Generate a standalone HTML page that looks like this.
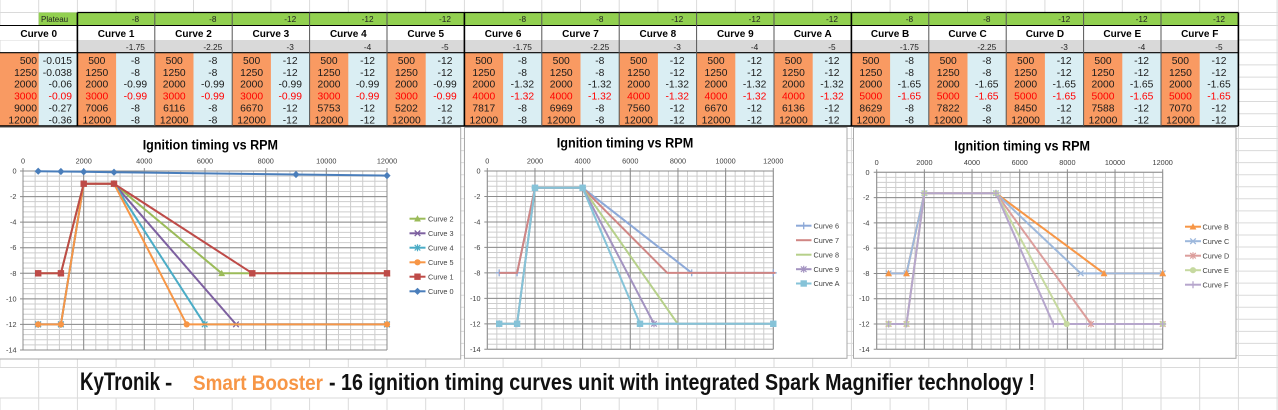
<!DOCTYPE html>
<html><head><meta charset="utf-8"><style>
html,body{margin:0;padding:0;background:#fff;width:1278px;height:410px;overflow:hidden}
svg{display:block}
text{font-family:"Liberation Sans",Arial,sans-serif}
.s{font-size:8.3px;fill:#222;text-anchor:middle}
.h{font-size:10px;font-weight:bold;text-anchor:middle;fill:#000}
.d{font-size:10.3px;text-anchor:middle;fill:#1b1b1b}
.d0{font-size:10.3px;text-anchor:end;fill:#1b1b1b}
.r{fill:#f00}
.tx{font-size:7.3px;fill:#404040;text-anchor:middle}
.ty{font-size:7.3px;fill:#404040;text-anchor:end}
.lg{font-size:7.3px;fill:#404040}
.ti{font-size:13.5px;font-weight:bold;fill:#000}
</style></head><body>
<svg width="1278" height="410" viewBox="0 0 1278 410" xmlns="http://www.w3.org/2000/svg">
<defs>
<polygon id="dia" points="0,-3.6 3.6,0 0,3.6 -3.6,0"/>
<rect id="sq" x="-3.2" y="-3.2" width="6.4" height="6.4"/>
<polygon id="tri" points="0,-3.6 3.4,2.8 -3.4,2.8"/>
<circle id="cir" r="3.1"/>
<path id="xm" d="M-2.8,-2.8L2.8,2.8M-2.8,2.8L2.8,-2.8" fill="none" stroke-width="1.3"/>
<path id="ast" d="M-2.8,-2.8L2.8,2.8M-2.8,2.8L2.8,-2.8M0,-3.5V3.5" fill="none" stroke-width="1.2"/>
<path id="plus" d="M-3.5,0H3.5M0,-3.5V3.5" fill="none" stroke-width="1.3"/>
</defs>

<!-- spreadsheet background grid -->
<rect x="0" y="0" width="1278" height="410" fill="#fff"/>
<g stroke="#dadada" fill="none">
<line x1="-0.5" y1="205" x2="1278" y2="205" stroke-width="410" stroke-dasharray="1 37.7"/>
<line x1="639" y1="126" x2="639" y2="368.5" stroke-width="1278" stroke-dasharray="1 11.05"/>
<path stroke-width="1" d="M0,12.5H1278M0,25.5H1278M0,40H1278M0,52.7H1278M0,64.9H1278M0,77.1H1278M0,89.3H1278M0,101.5H1278M0,113.7H1278"/>
</g>

<!-- table fills -->
<rect x="38.7" y="12.5" width="38.7" height="13" fill="#92d050"/>
<rect x="77.4" y="12.5" width="1161" height="13" fill="#92d050"/>
<rect x="0" y="25.5" width="1238.4" height="14.5" fill="#fff"/>
<rect x="77.4" y="40" width="1161" height="12.7" fill="#d9d9d9"/>
<rect x="0" y="52.7" width="1238.4" height="73.3" fill="#f99a62"/>
<line x1="38.7" y1="89.35" x2="1238.4" y2="89.35" stroke="#daeef3" stroke-width="73.3" stroke-dasharray="38.7 38.7"/>
<line x1="38.7" y1="40" x2="38.7" y2="52.7" stroke="#d4d4d4"/>

<!-- table borders -->
<g stroke="#000" fill="none">
<line x1="77.4" y1="12.5" x2="1238.4" y2="12.5" stroke-width="1.2"/>
<line x1="0" y1="25.5" x2="1238.4" y2="25.5" stroke-width="1"/>
<line x1="0" y1="52.7" x2="1238.4" y2="52.7" stroke-width="1.2"/>
<line x1="0" y1="126" x2="1238.4" y2="126" stroke-width="1.5"/>
<path stroke="#555" stroke-width="1" d="M154.8,12.5V126M232.2,12.5V126M309.6,12.5V126M387,12.5V126M541.8,12.5V126M619.2,12.5V126M696.6,12.5V126M774,12.5V126M928.8,12.5V126M1006.2,12.5V126M1083.6,12.5V126M1161,12.5V126"/>
<path stroke-width="1.6" d="M77.4,12.5V126M464.4,12.5V126M851.4,12.5V126M1238.4,12.5V126"/>
</g>

<!-- table text -->
<text x="41" y="21.8" style="font-size:8px;fill:#222">Plateau</text>
<text class="h" x="38.7" y="37">Curve 0</text>
<text class="d0"><tspan x="37" y="64">500</tspan><tspan x="37" y="75.9">1250</tspan><tspan x="37" y="87.7">2000</tspan><tspan x="37" y="99.6" class="r">3000</tspan><tspan x="37" y="111.4">9000</tspan><tspan x="37" y="123.3">12000</tspan><tspan x="72" y="64">-0.015</tspan><tspan x="72" y="75.9">-0.038</tspan><tspan x="72" y="87.7">-0.06</tspan><tspan x="72" y="99.6" class="r">-0.09</tspan><tspan x="72" y="111.4">-0.27</tspan><tspan x="72" y="123.3">-0.36</tspan></text>

<g transform="translate(77.4 0)"><text class="s" x="58" y="22">-8</text><text class="h" x="38.7" y="37">Curve 1</text><text class="s" x="58" y="50">-1.75</text><text class="d"><tspan x="19.4" y="64">500</tspan><tspan x="19.4" y="75.9">1250</tspan><tspan x="19.4" y="87.7">2000</tspan><tspan x="19.4" y="99.6" class="r">3000</tspan><tspan x="19.4" y="111.4">7006</tspan><tspan x="19.4" y="123.3">12000</tspan><tspan x="58" y="64">-8</tspan><tspan x="58" y="75.9">-8</tspan><tspan x="58" y="87.7">-0.99</tspan><tspan x="58" y="99.6" class="r">-0.99</tspan><tspan x="58" y="111.4">-8</tspan><tspan x="58" y="123.3">-8</tspan></text></g>

<g transform="translate(154.8 0)"><text class="s" x="58" y="22">-8</text><text class="h" x="38.7" y="37">Curve 2</text><text class="s" x="58" y="50">-2.25</text><text class="d"><tspan x="19.4" y="64">500</tspan><tspan x="19.4" y="75.9">1250</tspan><tspan x="19.4" y="87.7">2000</tspan><tspan x="19.4" y="99.6" class="r">3000</tspan><tspan x="19.4" y="111.4">6116</tspan><tspan x="19.4" y="123.3">12000</tspan><tspan x="58" y="64">-8</tspan><tspan x="58" y="75.9">-8</tspan><tspan x="58" y="87.7">-0.99</tspan><tspan x="58" y="99.6" class="r">-0.99</tspan><tspan x="58" y="111.4">-8</tspan><tspan x="58" y="123.3">-8</tspan></text></g>

<g transform="translate(232.2 0)"><text class="s" x="58" y="22">-12</text><text class="h" x="38.7" y="37">Curve 3</text><text class="s" x="58" y="50">-3</text><text class="d"><tspan x="19.4" y="64">500</tspan><tspan x="19.4" y="75.9">1250</tspan><tspan x="19.4" y="87.7">2000</tspan><tspan x="19.4" y="99.6" class="r">3000</tspan><tspan x="19.4" y="111.4">6670</tspan><tspan x="19.4" y="123.3">12000</tspan><tspan x="58" y="64">-12</tspan><tspan x="58" y="75.9">-12</tspan><tspan x="58" y="87.7">-0.99</tspan><tspan x="58" y="99.6" class="r">-0.99</tspan><tspan x="58" y="111.4">-12</tspan><tspan x="58" y="123.3">-12</tspan></text></g>

<g transform="translate(309.6 0)"><text class="s" x="58" y="22">-12</text><text class="h" x="38.7" y="37">Curve 4</text><text class="s" x="58" y="50">-4</text><text class="d"><tspan x="19.4" y="64">500</tspan><tspan x="19.4" y="75.9">1250</tspan><tspan x="19.4" y="87.7">2000</tspan><tspan x="19.4" y="99.6" class="r">3000</tspan><tspan x="19.4" y="111.4">5753</tspan><tspan x="19.4" y="123.3">12000</tspan><tspan x="58" y="64">-12</tspan><tspan x="58" y="75.9">-12</tspan><tspan x="58" y="87.7">-0.99</tspan><tspan x="58" y="99.6" class="r">-0.99</tspan><tspan x="58" y="111.4">-12</tspan><tspan x="58" y="123.3">-12</tspan></text></g>

<g transform="translate(387 0)"><text class="s" x="58" y="22">-12</text><text class="h" x="38.7" y="37">Curve 5</text><text class="s" x="58" y="50">-5</text><text class="d"><tspan x="19.4" y="64">500</tspan><tspan x="19.4" y="75.9">1250</tspan><tspan x="19.4" y="87.7">2000</tspan><tspan x="19.4" y="99.6" class="r">3000</tspan><tspan x="19.4" y="111.4">5202</tspan><tspan x="19.4" y="123.3">12000</tspan><tspan x="58" y="64">-12</tspan><tspan x="58" y="75.9">-12</tspan><tspan x="58" y="87.7">-0.99</tspan><tspan x="58" y="99.6" class="r">-0.99</tspan><tspan x="58" y="111.4">-12</tspan><tspan x="58" y="123.3">-12</tspan></text></g>

<g transform="translate(464.4 0)"><text class="s" x="58" y="22">-8</text><text class="h" x="38.7" y="37">Curve 6</text><text class="s" x="58" y="50">-1.75</text><text class="d"><tspan x="19.4" y="64">500</tspan><tspan x="19.4" y="75.9">1250</tspan><tspan x="19.4" y="87.7">2000</tspan><tspan x="19.4" y="99.6" class="r">4000</tspan><tspan x="19.4" y="111.4">7817</tspan><tspan x="19.4" y="123.3">12000</tspan><tspan x="58" y="64">-8</tspan><tspan x="58" y="75.9">-8</tspan><tspan x="58" y="87.7">-1.32</tspan><tspan x="58" y="99.6" class="r">-1.32</tspan><tspan x="58" y="111.4">-8</tspan><tspan x="58" y="123.3">-8</tspan></text></g>

<g transform="translate(541.8 0)"><text class="s" x="58" y="22">-8</text><text class="h" x="38.7" y="37">Curve 7</text><text class="s" x="58" y="50">-2.25</text><text class="d"><tspan x="19.4" y="64">500</tspan><tspan x="19.4" y="75.9">1250</tspan><tspan x="19.4" y="87.7">2000</tspan><tspan x="19.4" y="99.6" class="r">4000</tspan><tspan x="19.4" y="111.4">6969</tspan><tspan x="19.4" y="123.3">12000</tspan><tspan x="58" y="64">-8</tspan><tspan x="58" y="75.9">-8</tspan><tspan x="58" y="87.7">-1.32</tspan><tspan x="58" y="99.6" class="r">-1.32</tspan><tspan x="58" y="111.4">-8</tspan><tspan x="58" y="123.3">-8</tspan></text></g>

<g transform="translate(619.2 0)"><text class="s" x="58" y="22">-12</text><text class="h" x="38.7" y="37">Curve 8</text><text class="s" x="58" y="50">-3</text><text class="d"><tspan x="19.4" y="64">500</tspan><tspan x="19.4" y="75.9">1250</tspan><tspan x="19.4" y="87.7">2000</tspan><tspan x="19.4" y="99.6" class="r">4000</tspan><tspan x="19.4" y="111.4">7560</tspan><tspan x="19.4" y="123.3">12000</tspan><tspan x="58" y="64">-12</tspan><tspan x="58" y="75.9">-12</tspan><tspan x="58" y="87.7">-1.32</tspan><tspan x="58" y="99.6" class="r">-1.32</tspan><tspan x="58" y="111.4">-12</tspan><tspan x="58" y="123.3">-12</tspan></text></g>

<g transform="translate(696.6 0)"><text class="s" x="58" y="22">-12</text><text class="h" x="38.7" y="37">Curve 9</text><text class="s" x="58" y="50">-4</text><text class="d"><tspan x="19.4" y="64">500</tspan><tspan x="19.4" y="75.9">1250</tspan><tspan x="19.4" y="87.7">2000</tspan><tspan x="19.4" y="99.6" class="r">4000</tspan><tspan x="19.4" y="111.4">6670</tspan><tspan x="19.4" y="123.3">12000</tspan><tspan x="58" y="64">-12</tspan><tspan x="58" y="75.9">-12</tspan><tspan x="58" y="87.7">-1.32</tspan><tspan x="58" y="99.6" class="r">-1.32</tspan><tspan x="58" y="111.4">-12</tspan><tspan x="58" y="123.3">-12</tspan></text></g>

<g transform="translate(774 0)"><text class="s" x="58" y="22">-12</text><text class="h" x="38.7" y="37">Curve A</text><text class="s" x="58" y="50">-5</text><text class="d"><tspan x="19.4" y="64">500</tspan><tspan x="19.4" y="75.9">1250</tspan><tspan x="19.4" y="87.7">2000</tspan><tspan x="19.4" y="99.6" class="r">4000</tspan><tspan x="19.4" y="111.4">6136</tspan><tspan x="19.4" y="123.3">12000</tspan><tspan x="58" y="64">-12</tspan><tspan x="58" y="75.9">-12</tspan><tspan x="58" y="87.7">-1.32</tspan><tspan x="58" y="99.6" class="r">-1.32</tspan><tspan x="58" y="111.4">-12</tspan><tspan x="58" y="123.3">-12</tspan></text></g>

<g transform="translate(851.4 0)"><text class="s" x="58" y="22">-8</text><text class="h" x="38.7" y="37">Curve B</text><text class="s" x="58" y="50">-1.75</text><text class="d"><tspan x="19.4" y="64">500</tspan><tspan x="19.4" y="75.9">1250</tspan><tspan x="19.4" y="87.7">2000</tspan><tspan x="19.4" y="99.6" class="r">5000</tspan><tspan x="19.4" y="111.4">8629</tspan><tspan x="19.4" y="123.3">12000</tspan><tspan x="58" y="64">-8</tspan><tspan x="58" y="75.9">-8</tspan><tspan x="58" y="87.7">-1.65</tspan><tspan x="58" y="99.6" class="r">-1.65</tspan><tspan x="58" y="111.4">-8</tspan><tspan x="58" y="123.3">-8</tspan></text></g>

<g transform="translate(928.8 0)"><text class="s" x="58" y="22">-8</text><text class="h" x="38.7" y="37">Curve C</text><text class="s" x="58" y="50">-2.25</text><text class="d"><tspan x="19.4" y="64">500</tspan><tspan x="19.4" y="75.9">1250</tspan><tspan x="19.4" y="87.7">2000</tspan><tspan x="19.4" y="99.6" class="r">5000</tspan><tspan x="19.4" y="111.4">7822</tspan><tspan x="19.4" y="123.3">12000</tspan><tspan x="58" y="64">-8</tspan><tspan x="58" y="75.9">-8</tspan><tspan x="58" y="87.7">-1.65</tspan><tspan x="58" y="99.6" class="r">-1.65</tspan><tspan x="58" y="111.4">-8</tspan><tspan x="58" y="123.3">-8</tspan></text></g>

<g transform="translate(1006.2 0)"><text class="s" x="58" y="22">-12</text><text class="h" x="38.7" y="37">Curve D</text><text class="s" x="58" y="50">-3</text><text class="d"><tspan x="19.4" y="64">500</tspan><tspan x="19.4" y="75.9">1250</tspan><tspan x="19.4" y="87.7">2000</tspan><tspan x="19.4" y="99.6" class="r">5000</tspan><tspan x="19.4" y="111.4">8450</tspan><tspan x="19.4" y="123.3">12000</tspan><tspan x="58" y="64">-12</tspan><tspan x="58" y="75.9">-12</tspan><tspan x="58" y="87.7">-1.65</tspan><tspan x="58" y="99.6" class="r">-1.65</tspan><tspan x="58" y="111.4">-12</tspan><tspan x="58" y="123.3">-12</tspan></text></g>

<g transform="translate(1083.6 0)"><text class="s" x="58" y="22">-12</text><text class="h" x="38.7" y="37">Curve E</text><text class="s" x="58" y="50">-4</text><text class="d"><tspan x="19.4" y="64">500</tspan><tspan x="19.4" y="75.9">1250</tspan><tspan x="19.4" y="87.7">2000</tspan><tspan x="19.4" y="99.6" class="r">5000</tspan><tspan x="19.4" y="111.4">7588</tspan><tspan x="19.4" y="123.3">12000</tspan><tspan x="58" y="64">-12</tspan><tspan x="58" y="75.9">-12</tspan><tspan x="58" y="87.7">-1.65</tspan><tspan x="58" y="99.6" class="r">-1.65</tspan><tspan x="58" y="111.4">-12</tspan><tspan x="58" y="123.3">-12</tspan></text></g>

<g transform="translate(1161 0)"><text class="s" x="58" y="22">-12</text><text class="h" x="38.7" y="37">Curve F</text><text class="s" x="58" y="50">-5</text><text class="d"><tspan x="19.4" y="64">500</tspan><tspan x="19.4" y="75.9">1250</tspan><tspan x="19.4" y="87.7">2000</tspan><tspan x="19.4" y="99.6" class="r">5000</tspan><tspan x="19.4" y="111.4">7070</tspan><tspan x="19.4" y="123.3">12000</tspan><tspan x="58" y="64">-12</tspan><tspan x="58" y="75.9">-12</tspan><tspan x="58" y="87.7">-1.65</tspan><tspan x="58" y="99.6" class="r">-1.65</tspan><tspan x="58" y="111.4">-12</tspan><tspan x="58" y="123.3">-12</tspan></text></g>

<!-- ================= CHART 1 ================= -->
<rect x="-1" y="127.5" width="461.7" height="231.5" fill="#fff" stroke="#a9a9a9"/>
<text class="ti" x="142.7" y="149.3" textLength="135.3" lengthAdjust="spacingAndGlyphs">Ignition timing vs RPM</text>
<g fill="none">
<line x1="22.5" y1="260.5" x2="387.6" y2="260.5" stroke="#cdcdcd" stroke-width="179" stroke-dasharray="1 11.1333"/>
<line x1="205" y1="170.5" x2="205" y2="350.6" stroke="#cdcdcd" stroke-width="364" stroke-dasharray="1 4.1143"/>
<line x1="22.5" y1="260.5" x2="387.6" y2="260.5" stroke="#8c8c8c" stroke-width="179" stroke-dasharray="1 59.667"/>
<line x1="205" y1="170.5" x2="205" y2="350.6" stroke="#8c8c8c" stroke-width="364" stroke-dasharray="1 24.571"/>
<line x1="21.5" y1="170.5" x2="21.5" y2="350.6" stroke="#8c8c8c" stroke-width="3" stroke-dasharray="1 24.571"/>
<line x1="22.5" y1="169.5" x2="387.6" y2="169.5" stroke="#8c8c8c" stroke-width="3" stroke-dasharray="1 59.667"/>
</g>
<text class="tx" y="163.5"><tspan x="23">0</tspan><tspan x="83.7">2000</tspan><tspan x="144.3">4000</tspan><tspan x="205">6000</tspan><tspan x="265.7">8000</tspan><tspan x="326.3">10000</tspan><tspan x="387">12000</tspan></text>
<text class="ty"><tspan x="16.5" y="173.5">0</tspan><tspan x="16.5" y="199.1">-2</tspan><tspan x="16.5" y="224.6">-4</tspan><tspan x="16.5" y="250.2">-6</tspan><tspan x="16.5" y="275.8">-8</tspan><tspan x="16.5" y="301.4">-10</tspan><tspan x="16.5" y="326.9">-12</tspan><tspan x="16.5" y="352.5">-14</tspan></text>

<g stroke-width="2" stroke-linejoin="round" fill="none">
<polyline stroke="#9bbb59" points="38.2,273.3 60.9,273.3 83.7,183.7 114,183.7 221.7,273.3 387,273.3"/>
</g>
<g fill="#9bbb59"><use href="#tri" x="38.2" y="273.3"/><use href="#tri" x="60.9" y="273.3"/><use href="#tri" x="83.7" y="183.7"/><use href="#tri" x="114" y="183.7"/><use href="#tri" x="221.7" y="273.3"/><use href="#tri" x="387" y="273.3"/></g>
<polyline fill="none" stroke-width="2" stroke-linejoin="round" stroke="#7d60a0" points="38.2,324.4 60.9,324.4 83.7,183.7 114,183.7 236,324.4 387,324.4"/>
<g stroke="#7d60a0"><use href="#xm" x="38.2" y="324.4"/><use href="#xm" x="60.9" y="324.4"/><use href="#xm" x="83.7" y="183.7"/><use href="#xm" x="114" y="183.7"/><use href="#xm" x="236" y="324.4"/><use href="#xm" x="387" y="324.4"/></g>
<polyline fill="none" stroke-width="2" stroke-linejoin="round" stroke="#4bacc6" points="38.2,324.4 60.9,324.4 83.7,183.7 114,183.7 204.7,324.4 387,324.4"/>
<g stroke="#4bacc6"><use href="#ast" x="38.2" y="324.4"/><use href="#ast" x="60.9" y="324.4"/><use href="#ast" x="83.7" y="183.7"/><use href="#ast" x="114" y="183.7"/><use href="#ast" x="204.7" y="324.4"/><use href="#ast" x="387" y="324.4"/></g>
<polyline fill="none" stroke-width="2" stroke-linejoin="round" stroke="#f79646" points="38.2,324.4 60.9,324.4 83.7,183.7 114,183.7 186.7,324.4 387,324.4"/>
<g fill="#f79646"><use href="#cir" x="38.2" y="324.4"/><use href="#cir" x="60.9" y="324.4"/><use href="#cir" x="83.7" y="183.7"/><use href="#cir" x="114" y="183.7"/><use href="#cir" x="186.7" y="324.4"/><use href="#cir" x="387" y="324.4"/></g>
<polyline fill="none" stroke-width="2" stroke-linejoin="round" stroke="#be4b48" points="38.2,273.3 60.9,273.3 83.7,183.7 114,183.7 252.3,273.3 387,273.3"/>
<g fill="#be4b48"><use href="#sq" x="38.2" y="273.3"/><use href="#sq" x="60.9" y="273.3"/><use href="#sq" x="83.7" y="183.7"/><use href="#sq" x="114" y="183.7"/><use href="#sq" x="252.3" y="273.3"/><use href="#sq" x="387" y="273.3"/></g>
<polyline fill="none" stroke-width="2" stroke-linejoin="round" stroke="#4a7ebb" points="38.2,171.2 60.9,171.5 83.7,171.8 114,172.2 296,174.5 387,175.6"/>
<g fill="#4a7ebb"><use href="#dia" x="38.2" y="171.2"/><use href="#dia" x="60.9" y="171.5"/><use href="#dia" x="83.7" y="171.8"/><use href="#dia" x="114" y="172.2"/><use href="#dia" x="296" y="174.5"/><use href="#dia" x="387" y="175.6"/></g>

<!-- legend 1 -->
<g stroke-width="2">
<line x1="409.5" y1="218.7" x2="425.5" y2="218.7" stroke="#9bbb59"/>
<line x1="409.5" y1="233.3" x2="425.5" y2="233.3" stroke="#7d60a0"/>
<line x1="409.5" y1="247.7" x2="425.5" y2="247.7" stroke="#4bacc6"/>
<line x1="409.5" y1="262.3" x2="425.5" y2="262.3" stroke="#f79646"/>
<line x1="409.5" y1="276.7" x2="425.5" y2="276.7" stroke="#be4b48"/>
<line x1="409.5" y1="291.3" x2="425.5" y2="291.3" stroke="#4a7ebb"/>
</g>
<use href="#tri" x="417.5" y="218.7" fill="#9bbb59"/>
<use href="#xm" x="417.5" y="233.3" stroke="#7d60a0"/>
<use href="#ast" x="417.5" y="247.7" stroke="#4bacc6"/>
<use href="#cir" x="417.5" y="262.3" fill="#f79646"/>
<use href="#sq" x="417.5" y="276.7" fill="#be4b48"/>
<use href="#dia" x="417.5" y="291.3" fill="#4a7ebb"/>
<text class="lg"><tspan x="428" y="221.3">Curve 2</tspan><tspan x="428" y="235.9">Curve 3</tspan><tspan x="428" y="250.3">Curve 4</tspan><tspan x="428" y="264.9">Curve 5</tspan><tspan x="428" y="279.3">Curve 1</tspan><tspan x="428" y="293.9">Curve 0</tspan></text>

<!-- ================= CHART 2 ================= -->
<rect x="464.5" y="127.5" width="382.5" height="230.8" fill="#fff" stroke="#a9a9a9"/>
<text class="ti" x="556.7" y="147.3" textLength="136.6" lengthAdjust="spacingAndGlyphs">Ignition timing vs RPM</text>
<g fill="none">
<line x1="486.8" y1="260.15" x2="773.9" y2="260.15" stroke="#cdcdcd" stroke-width="178.3" stroke-dasharray="1 8.5333"/>
<line x1="630.3" y1="170.5" x2="630.3" y2="349.9" stroke="#cdcdcd" stroke-width="286" stroke-dasharray="1 4.0943"/>
<line x1="486.8" y1="260.15" x2="773.9" y2="260.15" stroke="#8c8c8c" stroke-width="178.3" stroke-dasharray="1 46.667"/>
<line x1="630.3" y1="170.5" x2="630.3" y2="349.9" stroke="#8c8c8c" stroke-width="286" stroke-dasharray="1 24.471"/>
<line x1="485.8" y1="170.5" x2="485.8" y2="349.9" stroke="#8c8c8c" stroke-width="3" stroke-dasharray="1 24.471"/>
<line x1="486.8" y1="169.5" x2="773.9" y2="169.5" stroke="#8c8c8c" stroke-width="3" stroke-dasharray="1 46.667"/>
</g>
<text class="tx" y="163.5"><tspan x="487.3">0</tspan><tspan x="535">2000</tspan><tspan x="582.6">4000</tspan><tspan x="630.3">6000</tspan><tspan x="678">8000</tspan><tspan x="725.6">10000</tspan><tspan x="773.3">12000</tspan></text>
<text class="ty"><tspan x="480.5" y="173.5">0</tspan><tspan x="480.5" y="199">-2</tspan><tspan x="480.5" y="224.4">-4</tspan><tspan x="480.5" y="249.9">-6</tspan><tspan x="480.5" y="275.4">-8</tspan><tspan x="480.5" y="300.9">-10</tspan><tspan x="480.5" y="326.3">-12</tspan><tspan x="480.5" y="351.8">-14</tspan></text>

<polyline fill="none" stroke-width="2" stroke-linejoin="round" stroke="#8da9d8" points="499.2,272.9 517.1,272.9 535,187.8 582.6,187.8 691.7,272.9 773.3,272.9"/>
<g stroke="#8da9d8"><use href="#plus" x="499.2" y="272.9"/><use href="#plus" x="517.1" y="272.9"/><use href="#plus" x="535" y="187.8"/><use href="#plus" x="582.6" y="187.8"/><use href="#plus" x="691.7" y="272.9"/><use href="#plus" x="773.3" y="272.9"/></g>
<polyline fill="none" stroke-width="2" stroke-linejoin="round" stroke="#d08684" points="499.2,272.9 517.1,272.9 535,187.8 582.6,187.8 667.3,272.9 775.5,272.9"/>
<polyline fill="none" stroke-width="2" stroke-linejoin="round" stroke="#b6d08a" points="499.2,323.8 517.1,323.8 535,187.8 582.6,187.8 677.7,323.8 773.3,323.8"/>
<polyline fill="none" stroke-width="2" stroke-linejoin="round" stroke="#a393c0" points="499.2,323.8 517.1,323.8 535,187.8 582.6,187.8 654,323.8 773.3,323.8"/>
<g stroke="#a393c0"><use href="#ast" x="499.2" y="323.8"/><use href="#ast" x="517.1" y="323.8"/><use href="#ast" x="535" y="187.8"/><use href="#ast" x="582.6" y="187.8"/><use href="#ast" x="654" y="323.8"/><use href="#ast" x="773.3" y="323.8"/></g>
<polyline fill="none" stroke-width="2" stroke-linejoin="round" stroke="#86c3d8" points="499.2,323.8 517.1,323.8 535,187.8 582.6,187.8 640,323.8 773.3,323.8"/>
<g fill="#86c3d8"><use href="#sq" x="499.2" y="323.8"/><use href="#sq" x="517.1" y="323.8"/><use href="#sq" x="535" y="187.8"/><use href="#sq" x="582.6" y="187.8"/><use href="#sq" x="640" y="323.8"/><use href="#sq" x="773.3" y="323.8"/></g>

<!-- legend 2 -->
<g stroke-width="2">
<line x1="796" y1="225.7" x2="811.5" y2="225.7" stroke="#8da9d8"/>
<line x1="796" y1="240.2" x2="811.5" y2="240.2" stroke="#d08684"/>
<line x1="796" y1="254.7" x2="811.5" y2="254.7" stroke="#b6d08a"/>
<line x1="796" y1="269.2" x2="811.5" y2="269.2" stroke="#a393c0"/>
<line x1="796" y1="283.5" x2="811.5" y2="283.5" stroke="#86c3d8"/>
</g>
<use href="#plus" x="803.7" y="225.7" stroke="#8da9d8"/>
<use href="#ast" x="803.7" y="269.2" stroke="#a393c0"/>
<use href="#sq" x="803.7" y="283.5" fill="#86c3d8"/>
<text class="lg"><tspan x="813.5" y="228.3">Curve 6</tspan><tspan x="813.5" y="242.8">Curve 7</tspan><tspan x="813.5" y="257.3">Curve 8</tspan><tspan x="813.5" y="271.8">Curve 9</tspan><tspan x="813.5" y="286.1">Curve A</tspan></text>

<!-- ================= CHART 3 ================= -->
<rect x="853.5" y="127.5" width="382.5" height="230.8" fill="#fff" stroke="#a9a9a9"/>
<text class="ti" x="954.3" y="150.5" textLength="135.7" lengthAdjust="spacingAndGlyphs">Ignition timing vs RPM</text>
<g fill="none">
<line x1="876.2" y1="260.8" x2="1163.3" y2="260.8" stroke="#cdcdcd" stroke-width="177" stroke-dasharray="1 8.5333"/>
<line x1="1019.7" y1="171.8" x2="1019.7" y2="349.9" stroke="#cdcdcd" stroke-width="286" stroke-dasharray="1 4.0571"/>
<line x1="876.2" y1="260.8" x2="1163.3" y2="260.8" stroke="#8c8c8c" stroke-width="177" stroke-dasharray="1 46.667"/>
<line x1="1019.7" y1="171.8" x2="1019.7" y2="349.9" stroke="#8c8c8c" stroke-width="286" stroke-dasharray="1 24.286"/>
<line x1="875.2" y1="171.8" x2="875.2" y2="349.9" stroke="#8c8c8c" stroke-width="3" stroke-dasharray="1 24.286"/>
<line x1="876.2" y1="170.8" x2="1163.3" y2="170.8" stroke="#8c8c8c" stroke-width="3" stroke-dasharray="1 46.667"/>
</g>
<text class="tx" y="165"><tspan x="876.7">0</tspan><tspan x="924.4">2000</tspan><tspan x="972">4000</tspan><tspan x="1019.7">6000</tspan><tspan x="1067.4">8000</tspan><tspan x="1115">10000</tspan><tspan x="1162.7">12000</tspan></text>
<text class="ty"><tspan x="869.5" y="174.8">0</tspan><tspan x="869.5" y="200.1">-2</tspan><tspan x="869.5" y="225.4">-4</tspan><tspan x="869.5" y="250.7">-6</tspan><tspan x="869.5" y="275.9">-8</tspan><tspan x="869.5" y="301.2">-10</tspan><tspan x="869.5" y="326.5">-12</tspan><tspan x="869.5" y="351.8">-14</tspan></text>

<g fill="none" stroke-width="2" stroke-linejoin="round">
<polyline stroke="#f79646" points="888.6,273.4 906.5,273.4 924.4,193.2 995.9,193.2 1104,273.4 1162.7,273.4"/>
<polyline stroke="#9db8dc" points="888.6,273.4 906.5,273.4 924.4,193.2 995.9,193.2 1080.7,273.4 1162.7,273.4"/>
<polyline stroke="#dc9e9c" points="888.6,324 906.5,324 924.4,193.2 995.9,193.2 1091,324 1162.7,324"/>
<polyline stroke="#c6d9a0" points="888.6,324 906.5,324 924.4,193.2 995.9,193.2 1066.7,324 1162.7,324"/>
<polyline stroke="#b6a6cc" points="888.6,324 906.5,324 924.4,193.2 995.9,193.2 1053.3,324 1162.7,324"/>
</g>
<g stroke="#9db8dc"><use href="#xm" x="888.6" y="273.4"/><use href="#xm" x="906.5" y="273.4"/><use href="#xm" x="924.4" y="193.2"/><use href="#xm" x="995.9" y="193.2"/><use href="#xm" x="1080.7" y="273.4"/><use href="#xm" x="1162.7" y="273.4"/></g>
<g stroke="#dc9e9c"><use href="#ast" x="888.6" y="324"/><use href="#ast" x="906.5" y="324"/><use href="#ast" x="1091" y="324"/><use href="#ast" x="1162.7" y="324"/></g>
<g fill="#c6d9a0"><use href="#cir" x="888.6" y="324"/><use href="#cir" x="906.5" y="324"/><use href="#cir" x="924.4" y="193.2"/><use href="#cir" x="995.9" y="193.2"/><use href="#cir" x="1066.7" y="324"/><use href="#cir" x="1162.7" y="324"/></g>
<g stroke="#b6a6cc"><use href="#plus" x="888.6" y="324"/><use href="#plus" x="906.5" y="324"/><use href="#plus" x="924.4" y="193.2"/><use href="#plus" x="995.9" y="193.2"/><use href="#plus" x="1053.3" y="324"/><use href="#plus" x="1162.7" y="324"/></g>
<g fill="#f79646"><use href="#tri" x="888.6" y="273.4"/><use href="#tri" x="906.5" y="273.4"/><use href="#tri" x="1104" y="273.4"/><use href="#tri" x="1162.7" y="273.4"/></g>

<!-- legend 3 -->
<g stroke-width="2">
<line x1="1185" y1="226.7" x2="1201" y2="226.7" stroke="#f79646"/>
<line x1="1185" y1="241.2" x2="1201" y2="241.2" stroke="#9db8dc"/>
<line x1="1185" y1="255.7" x2="1201" y2="255.7" stroke="#dc9e9c"/>
<line x1="1185" y1="270.2" x2="1201" y2="270.2" stroke="#c6d9a0"/>
<line x1="1185" y1="284.7" x2="1201" y2="284.7" stroke="#b6a6cc"/>
</g>
<use href="#tri" x="1193" y="226.7" fill="#f79646"/>
<use href="#xm" x="1193" y="241.2" stroke="#9db8dc"/>
<use href="#ast" x="1193" y="255.7" stroke="#dc9e9c"/>
<use href="#cir" x="1193" y="270.2" fill="#c6d9a0"/>
<use href="#plus" x="1193" y="284.7" stroke="#b6a6cc"/>
<text class="lg"><tspan x="1202.5" y="229.3">Curve B</tspan><tspan x="1202.5" y="243.8">Curve C</tspan><tspan x="1202.5" y="258.3">Curve D</tspan><tspan x="1202.5" y="272.8">Curve E</tspan><tspan x="1202.5" y="287.3">Curve F</tspan></text>

<!-- bottom text band -->
<rect x="0" y="368" width="1278" height="29.5" fill="#fff"/>
<path stroke="#dadada" stroke-width="1" fill="none" d="M38.7,368V398M77.4,368V398M1044.9,368V398M1083.6,368V398M1122.3,368V398M1161,368V398M1199.7,368V398M1238.4,368V398M1277.1,368V398M0,398H1278"/>
<text x="80" y="390" font-size="25" font-weight="bold" fill="#111" textLength="80" lengthAdjust="spacingAndGlyphs">KyTronik</text>
<text x="165" y="390" font-size="22" font-weight="bold" fill="#111">-</text>
<text x="193" y="390" font-size="21" font-weight="bold" fill="#f79646" textLength="130" lengthAdjust="spacingAndGlyphs">Smart Booster</text>
<text x="329" y="390" font-size="23" font-weight="bold" fill="#111" textLength="706" lengthAdjust="spacingAndGlyphs">- 16 ignition timing curves unit with integrated Spark Magnifier technology !</text>
</svg>
</body></html>
